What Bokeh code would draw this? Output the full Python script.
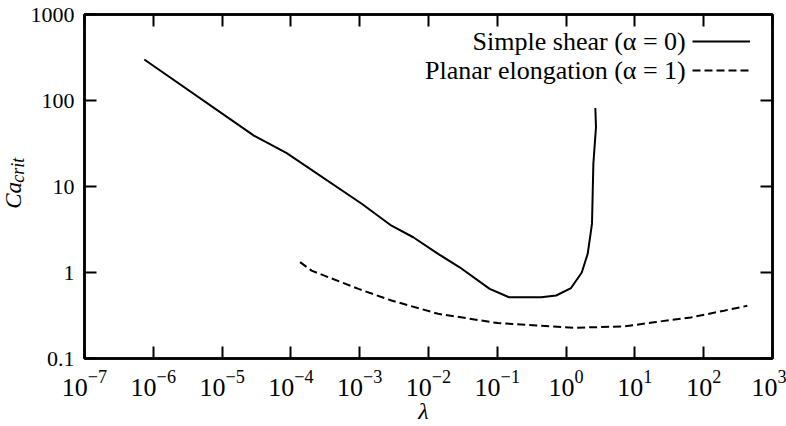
import math
from bokeh.plotting import figure
from bokeh.layouts import row
from bokeh.models import (LogAxis, FixedTicker, CustomJSTickFormatter, Label,
                          Legend, LegendItem, Range1d)
from bokeh.core.properties import value
from bokeh.embed import file_html
from bokeh.resources import INLINE

# ---------------- data ----------------
shear_lambda = [7.4e-7, 2.9e-5, 8.7e-5, 1.07e-3, 2.9e-3, 6.0e-3, 1.38e-2, 2.84e-2,
                7.75e-2, 0.148, 0.435, 0.717, 1.18, 1.69, 2.06, 2.38, 2.49, 2.72, 2.66]
shear_ca = [300, 39, 24.4, 6.3, 3.5, 2.57, 1.65, 1.15,
            0.645, 0.516, 0.516, 0.54, 0.66, 1.0, 1.65, 3.7, 18.4, 49, 82]

planar_lambda = [1.36e-4, 2.0e-4, 9.6e-4, 2.9e-3, 1.38e-2, 0.102, 1.32, 7.0, 19, 65, 197, 430]
planar_ca = [1.32, 1.05, 0.645, 0.472, 0.331, 0.258, 0.228, 0.236, 0.264, 0.30, 0.36, 0.41]

x_ticks = [1e-7, 1e-6, 1e-5, 1e-4, 1e-3, 1e-2, 1e-1, 1e0, 1e1, 1e2, 1e3]
y_ticks = [0.1, 1, 10, 100, 1000]
y_tick_labels = ["0.1", "1", "10", "100", "1000"]
series_labels = ["Simple shear (α = 0)", "Planar elongation (α = 1)"]
x_label = "λ"
y_label_main = "Ca"
y_label_sub = "crit"

FONT = "Liberation Serif"
W, H = 786, 426
LABEL_W = 27          # width of the strip that holds the y-axis title

# screenshot pixel -> data helpers (frame: x 82..772, y 14..358)
def xpx(px):
    return 10 ** (-7 + (px - 82) / 69.0)

def ypx(py):
    return 10 ** (3 - (py - 14) / 86.0)

# ---------------- y-axis title strip (pixel coordinates, y up) ----------------
t = figure(width=LABEL_W, height=H, x_range=Range1d(0, LABEL_W), y_range=Range1d(0, H),
           output_backend="svg", toolbar_location=None,
           x_axis_location=None, y_axis_location=None,
           min_border_left=0, min_border_right=0, min_border_top=0, min_border_bottom=0)
t.grid.visible = False
t.outline_line_color = None
t.background_fill_color = "white"
t.border_fill_color = "white"
t.text(x=[13], y=[H - 224], text=[y_label_main], angle=math.pi / 2,
       text_align="center", text_baseline="middle", text_font=value(FONT),
       text_font_style="italic", text_font_size="23px", text_color="black")
t.text(x=[17], y=[H - 193], text=[y_label_sub], angle=math.pi / 2,
       text_align="center", text_baseline="middle", text_font=value(FONT),
       text_font_style="italic", text_font_size="18px", text_color="black")

# ---------------- main plot ----------------
p = figure(width=W - LABEL_W, height=H, x_axis_type="log", y_axis_type="log",
           x_range=(1e-7, 1e3), y_range=(0.1, 1000),
           output_backend="svg", toolbar_location=None,
           min_border_left=82 - LABEL_W, min_border_right=14, min_border_top=14,
           min_border_bottom=68)
p.grid.visible = False
p.outline_line_color = "black"
p.outline_line_width = 2.5
p.background_fill_color = "white"
p.border_fill_color = "white"

def style_axis(ax):
    ax.major_tick_in = 12
    ax.major_tick_out = 0
    ax.major_tick_line_width = 2
    ax.major_tick_line_color = "black"
    ax.minor_tick_line_color = None
    ax.axis_line_width = 2.5
    ax.axis_line_color = "black"

for ax in p.xaxis:
    ax.ticker = FixedTicker(ticks=x_ticks)
    style_axis(ax)
    ax.major_label_text_font = FONT
    ax.major_label_text_font_size = "26px"
    ax.major_label_text_color = "black"
    ax.major_label_standoff = 12

for ax in p.yaxis:
    ax.ticker = FixedTicker(ticks=y_ticks)
    style_axis(ax)
    ax.major_label_overrides = {tk: lb for tk, lb in zip(y_ticks, y_tick_labels)}
    ax.major_label_text_font = FONT
    ax.major_label_text_font_size = "22px"
    ax.major_label_text_color = "black"
    ax.major_label_standoff = 10

top = LogAxis(ticker=FixedTicker(ticks=x_ticks),
              formatter=CustomJSTickFormatter(code="return ''"),
              major_label_text_font_size="0px", major_label_standoff=0)
style_axis(top)
p.add_layout(top, "above")
right = LogAxis(ticker=FixedTicker(ticks=y_ticks),
                formatter=CustomJSTickFormatter(code="return ''"),
                major_label_text_font_size="0px", major_label_standoff=0)
style_axis(right)
p.add_layout(right, "right")

r1 = p.line(shear_lambda, shear_ca, line_color="black", line_width=2)
r2 = p.line(planar_lambda, planar_ca, line_color="black", line_width=2, line_dash="8 4")

legend = Legend(items=[LegendItem(label=value(""), renderers=[r1]),
                       LegendItem(label=value(""), renderers=[r2])],
                location=(608, 278), glyph_width=58, glyph_height=20,
                label_standoff=0, label_width=0, padding=0, spacing=9, margin=0,
                border_line_color=None, background_fill_alpha=0)
p.add_layout(legend, "center")

for txt, py in zip(series_labels, [41, 70]):
    p.add_layout(Label(x=xpx(685), y=ypx(py), text=txt, text_align="right",
                       text_baseline="middle", text_font=FONT,
                       text_font_size="26px", text_color="black"))

p.add_layout(Label(x=xpx(422), y=ypx(410), text=x_label, text_align="center",
                   text_baseline="middle", text_font=FONT, text_font_style="italic",
                   text_font_size="24px", text_color="black"), "below")

layout = row(t, p, spacing=0)
open("out.html", "w").write(file_html(layout, INLINE))
